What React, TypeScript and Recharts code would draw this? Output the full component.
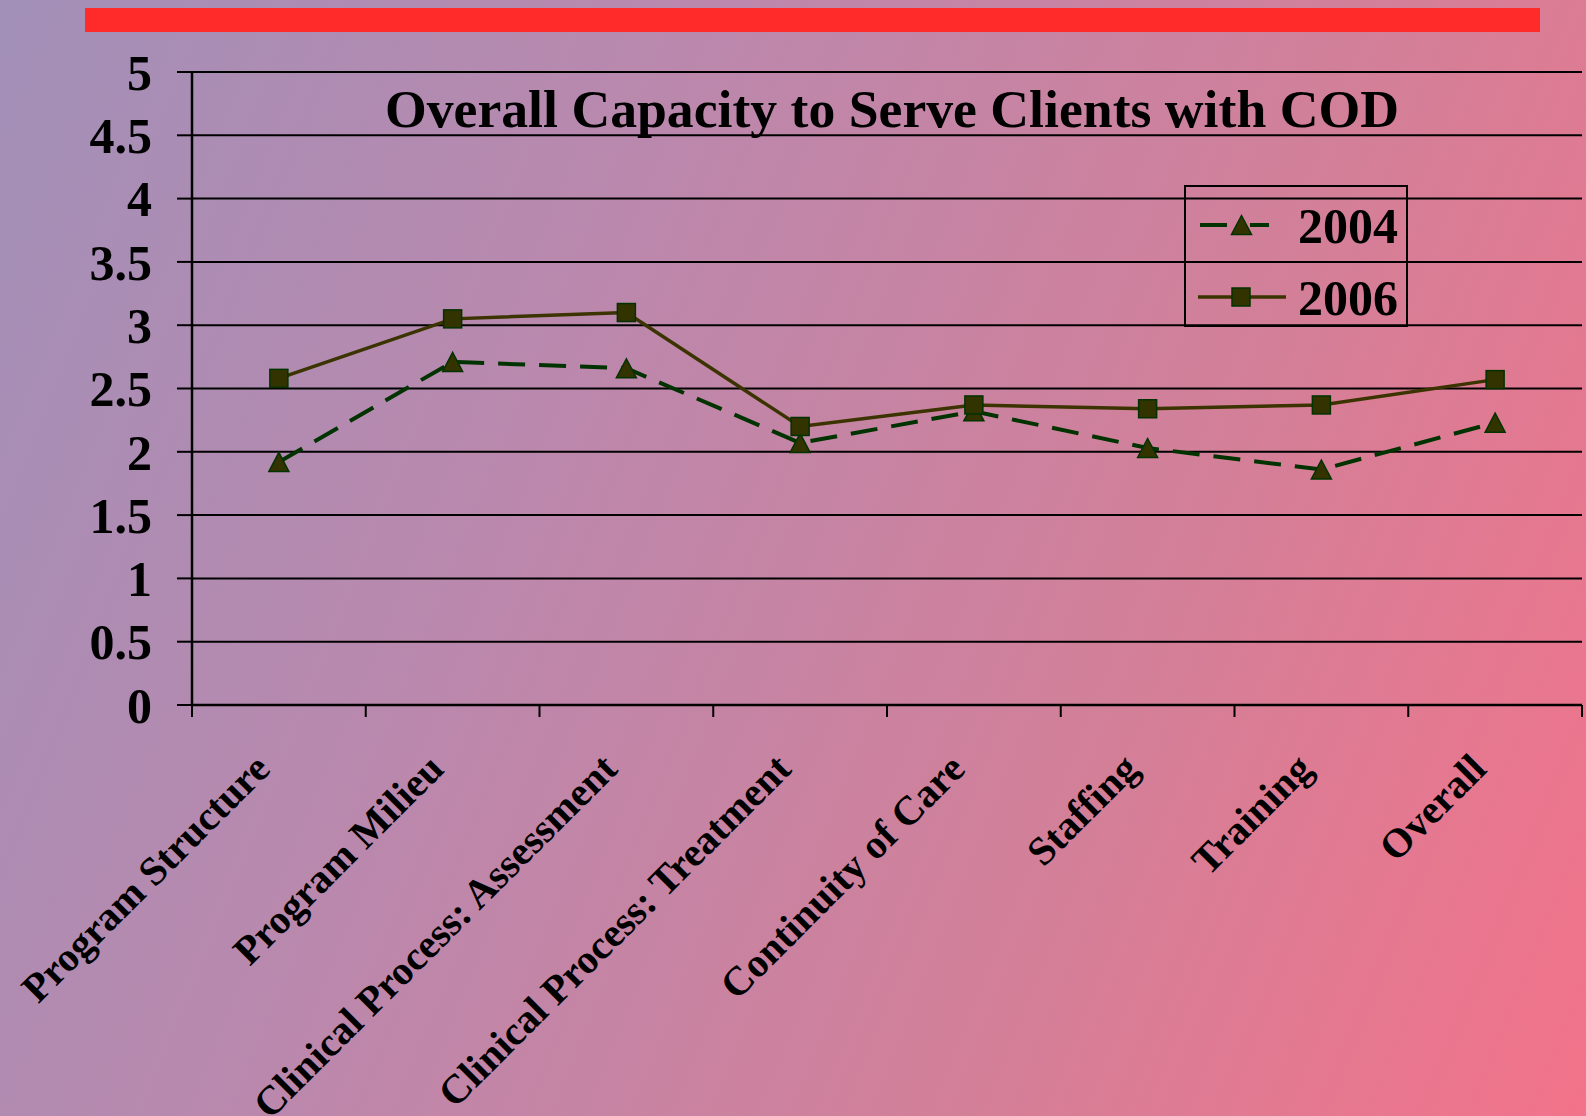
import React from 'react';
import { LineChart, Line, XAxis, YAxis, CartesianGrid, Legend } from 'recharts';

const categories = [
  'Program Structure',
  'Program Milieu',
  'Clinical Process: Assessment',
  'Clinical Process: Treatment',
  'Continuity of Care',
  'Staffing',
  'Training',
  'Overall',
];
const values2004 = [1.92, 2.71, 2.66, 2.07, 2.32, 2.03, 1.86, 2.23];
const values2006 = [2.58, 3.05, 3.1, 2.2, 2.37, 2.34, 2.37, 2.57];
const yTicks = [0, 0.5, 1, 1.5, 2, 2.5, 3, 3.5, 4, 4.5, 5];
const seriesNames = ['2004', '2006'];
const title = 'Overall Capacity to Serve Clients with COD';

const data = categories.map((name, i) => ({
  name,
  y2004: values2004[i],
  y2006: values2006[i],
}));

const W = 1586;
const H = 1116;
const PLOT_LEFT = 192;
const PLOT_RIGHT = 1582;
const BAND = (PLOT_RIGHT - PLOT_LEFT) / categories.length;
const FONT = "'Liberation Serif', 'Times New Roman', serif";
const GREEN = '#003300';
const OLIVE = '#3b3300';
const MARKER = '#333300';

// tick marks sit between categories, labels hang at 45 degrees
const CategoryTick = (props: any) => {
  const { x, y, payload, index } = props;
  const half = BAND / 2;
  const tx = x - 7;
  const ty = y + 66;
  return (
    <g>
      <line x1={x - half} x2={x - half} y1={y} y2={y + 12} stroke="#000" strokeWidth={2} />
      {index === categories.length - 1 && (
        <line x1={x + half} x2={x + half} y1={y} y2={y + 12} stroke="#000" strokeWidth={2} />
      )}
      <text
        x={tx}
        y={ty}
        transform={`rotate(-45 ${tx} ${ty})`}
        textAnchor="end"
        fontFamily={FONT}
        fontWeight="bold"
        fontSize={40.5}
        fill="#000"
      >
        {payload.value}
      </text>
    </g>
  );
};

const triangle = (cx: number, cy: number) =>
  `${cx},${cy - 9.5} ${cx + 10},${cy + 9.5} ${cx - 10},${cy + 9.5}`;

const TriangleDot = (props: any) => {
  const { cx, cy, index } = props;
  if (cx == null || cy == null) return null;
  return <polygon key={`t${index}`} points={triangle(cx, cy)} fill={MARKER} stroke={GREEN} strokeWidth={1.5} />;
};

const SquareDot = (props: any) => {
  const { cx, cy, index } = props;
  if (cx == null || cy == null) return null;
  return <rect key={`s${index}`} x={cx - 9} y={cy - 9} width={18} height={18} fill={MARKER} stroke={GREEN} strokeWidth={1.5} />;
};

const renderLegend = (props: any) => {
  const items = props.payload || [];
  return (
    <svg width={224} height={142} style={{ display: 'block' }}>
      <rect x={1} y={1} width={222} height={140} fill="none" stroke="#000" strokeWidth={2} />
      {items.map((entry: any, i: number) => {
        const rowY = i === 0 ? 40 : 112;
        return (
          <g key={entry.value}>
            {i === 0 ? (
              <>
                <line x1={16} x2={85} y1={rowY} y2={rowY} stroke={GREEN} strokeWidth={4} strokeDasharray="27 23" />
                <polygon points={triangle(57.5, rowY)} fill={MARKER} stroke={GREEN} strokeWidth={1.5} />
              </>
            ) : (
              <>
                <line x1={14} x2={102} y1={rowY} y2={rowY} stroke={OLIVE} strokeWidth={3.5} />
                <rect x={48} y={rowY - 9} width={18} height={18} fill={MARKER} stroke={GREEN} strokeWidth={1.5} />
              </>
            )}
            <text x={114} y={rowY + 18} fontFamily={FONT} fontWeight="bold" fontSize={50} fill="#000">
              {entry.value}
            </text>
          </g>
        );
      })}
    </svg>
  );
};

export default function App() {
  return (
    <div
      style={{
        position: 'absolute',
        left: 0,
        top: 0,
        width: W,
        height: H,
        overflow: 'hidden',
        background: 'linear-gradient(112deg, #a290b8 0%, #bb88ad 35%, #d47f98 70%, #f2738a 100%)',
      }}
    >
      <div style={{ position: 'absolute', left: 85, top: 8, width: 1455, height: 24, background: '#ff2a2a' }} />
      <div style={{ position: 'absolute', left: 0, top: 0 }}>
        <LineChart width={W} height={H} data={data} margin={{ top: 72, right: 4, bottom: 0, left: 0 }}>
          <CartesianGrid vertical={false} stroke="#000" strokeWidth={2} />
          <XAxis
            dataKey="name"
            scale="band"
            interval={0}
            height={411}
            tickSize={0}
            tickMargin={0}
            tickLine={false}
            axisLine={{ stroke: '#000', strokeWidth: 2.5 }}
            tick={(p: any) => <CategoryTick {...p} />}
          />
          <YAxis
            domain={[0, 5]}
            ticks={yTicks}
            interval={0}
            width={192}
            tickSize={15}
            tickMargin={25}
            tickLine={{ stroke: '#000', strokeWidth: 2 }}
            axisLine={{ stroke: '#000', strokeWidth: 2.5 }}
            tick={{ fontFamily: FONT, fontWeight: 'bold', fontSize: 50, fill: '#000' }}
          />
          <YAxis
            yAxisId="r"
            orientation="right"
            width={0}
            tick={false}
            tickLine={false}
            axisLine={{ stroke: '#000', strokeWidth: 2.5 }}
          />
          <Legend
            layout="vertical"
            align="center"
            verticalAlign="middle"
            content={renderLegend}
            wrapperStyle={{ position: 'absolute', left: 1184, top: 185, width: 224, height: 142 }}
          />
          <Line
            dataKey="y2004"
            name={seriesNames[0]}
            stroke={GREEN}
            strokeWidth={4}
            strokeDasharray="27 14"
            dot={TriangleDot}
            activeDot={false}
            isAnimationActive={false}
          />
          <Line
            dataKey="y2006"
            name={seriesNames[1]}
            stroke={OLIVE}
            strokeWidth={3.5}
            dot={SquareDot}
            activeDot={false}
            isAnimationActive={false}
          />
        </LineChart>
      </div>
      <svg width={W} height={H} style={{ position: 'absolute', left: 0, top: 0, pointerEvents: 'none' }}>
        <text x={892} y={127} textAnchor="middle" fontFamily={FONT} fontWeight="bold" fontSize={53.7} fill="#000">
          {title}
        </text>
      </svg>
    </div>
  );
}
